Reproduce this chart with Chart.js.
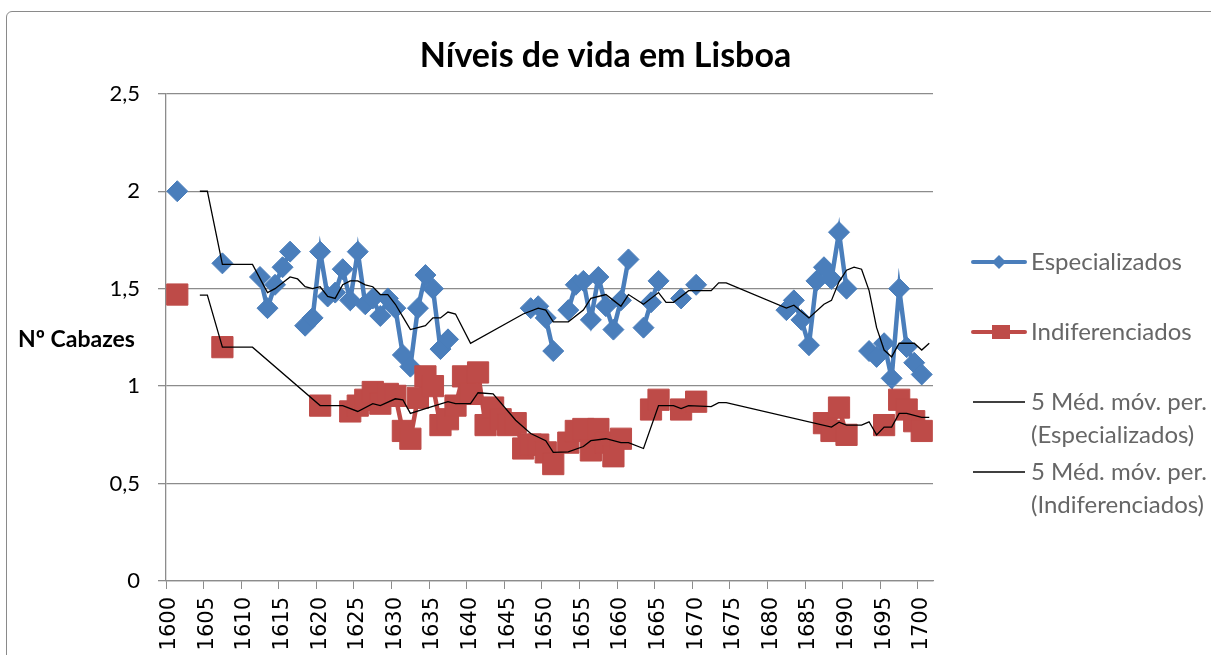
<!DOCTYPE html>
<html>
<head>
<meta charset="utf-8">
<script src="https://cdn.jsdelivr.net/npm/chart.js@4.4.1/dist/chart.umd.min.js"></script>
<style>
  html, body { margin: 0; padding: 0; background: #fff; overflow: hidden; }
  #wrap { position: relative; width: 1211px; height: 655px; }
  #frame { position: absolute; left: 6px; top: 11px; width: 1300px; height: 700px;
           border: 1.5px solid #8a8a8a; border-radius: 6px; pointer-events: none; }
</style>
</head>
<body>
<div id="wrap">
  <canvas id="chart" width="1211" height="655"></canvas>
  <div id="frame"></div>
</div>
<script>
const chartTitle = 'Níveis de vida em Lisboa';
const yTitle = 'Nº Cabazes';

// categorias do eixo x: um ano por categoria
const years = [];
for (let y = 1600; y <= 1701; y++) years.push(y);

const espYears = [1601, 1607, 1612, 1613, 1614, 1615, 1616, 1618, 1619, 1620, 1621, 1622, 1623, 1624, 1625,
  1626, 1627, 1628, 1629, 1630, 1631, 1632, 1633, 1634, 1635, 1636, 1637, 1648, 1649, 1650, 1651,
  1653, 1654, 1655, 1656, 1657, 1658, 1659, 1660, 1661, 1663, 1664, 1665, 1668, 1670,
  1682, 1683, 1684, 1685, 1686, 1687, 1688, 1689, 1690, 1693, 1694, 1695, 1696, 1697, 1698, 1699, 1700];
const espValues = [2.00, 1.63, 1.56, 1.40, 1.52, 1.61, 1.69, 1.31, 1.35, 1.69, 1.46, 1.48, 1.60, 1.44, 1.69,
  1.42, 1.45, 1.36, 1.45, 1.40, 1.16, 1.10, 1.40, 1.57, 1.50, 1.19, 1.24, 1.40, 1.41, 1.35, 1.18,
  1.39, 1.52, 1.54, 1.34, 1.56, 1.41, 1.29, 1.44, 1.65, 1.30, 1.43, 1.54, 1.45, 1.52,
  1.39, 1.44, 1.34, 1.21, 1.54, 1.61, 1.55, 1.79, 1.50, 1.18, 1.15, 1.22, 1.04, 1.50, 1.20, 1.12, 1.06];

const indYears = [1601, 1607, 1620, 1624, 1625, 1626, 1627, 1628, 1629, 1630, 1631, 1632, 1633, 1634, 1635,
  1636, 1637, 1638, 1639, 1640, 1641, 1642, 1643, 1644, 1645, 1646, 1647, 1648, 1649, 1650, 1651,
  1653, 1654, 1655, 1656, 1657, 1658, 1659, 1660, 1664, 1665, 1668, 1670,
  1687, 1688, 1689, 1690, 1695, 1697, 1698, 1699, 1700];
const indValues = [1.47, 1.20, 0.90, 0.87, 0.90, 0.93, 0.97, 0.91, 0.96, 0.95, 0.77, 0.73, 0.94, 1.05, 1.00,
  0.80, 0.83, 0.90, 1.05, 0.96, 1.07, 0.80, 0.89, 0.83, 0.80, 0.81, 0.68, 0.70, 0.70, 0.66, 0.60,
  0.71, 0.77, 0.78, 0.67, 0.78, 0.71, 0.64, 0.73, 0.88, 0.93, 0.88, 0.92,
  0.81, 0.77, 0.89, 0.75, 0.80, 0.93, 0.88, 0.82, 0.77];

// médias móveis
const mmEspYears = [1604, 1605, 1607, 1611, 1613, 1614, 1616, 1617, 1618, 1619, 1620, 1621, 1622, 1623, 1624,
  1625, 1626, 1627, 1628, 1629, 1630, 1631, 1632, 1633, 1634, 1635, 1636, 1637, 1638, 1640, 1647,
  1649, 1650, 1651, 1653, 1655, 1656, 1658, 1659, 1660, 1661, 1663, 1665, 1666, 1667, 1669, 1672,
  1673, 1674, 1682, 1683, 1685, 1687, 1688, 1689, 1690, 1691, 1692, 1693, 1694, 1695, 1696, 1697,
  1699, 1700, 1701];
const mmEspValues = [2.00, 2.00, 1.625, 1.625, 1.48, 1.50, 1.56, 1.55, 1.51, 1.50, 1.51, 1.46, 1.45, 1.52, 1.54,
  1.54, 1.52, 1.51, 1.47, 1.47, 1.42, 1.355, 1.29, 1.30, 1.31, 1.35, 1.35, 1.38, 1.37, 1.22, 1.37,
  1.40, 1.39, 1.33, 1.33, 1.39, 1.45, 1.47, 1.44, 1.41, 1.47, 1.42, 1.48, 1.43, 1.43, 1.49, 1.49,
  1.53, 1.53, 1.40, 1.415, 1.35, 1.42, 1.44, 1.535, 1.595, 1.61, 1.60, 1.49, 1.30, 1.185, 1.15, 1.22,
  1.22, 1.185, 1.22];

const mmIndYears = [1604, 1605, 1607, 1611, 1620, 1623, 1625, 1627, 1628, 1630, 1631, 1632, 1634, 1637, 1638,
  1640, 1641, 1643, 1646, 1648, 1650, 1651, 1653, 1655, 1656, 1658, 1660, 1661, 1663, 1665, 1667,
  1668, 1669, 1672, 1673, 1674, 1688, 1689, 1690, 1692, 1693, 1694, 1695, 1696, 1697, 1698, 1700, 1701];
const mmIndValues = [1.467, 1.467, 1.20, 1.20, 0.90, 0.90, 0.87, 0.91, 0.90, 0.935, 0.93, 0.86, 0.885, 0.92, 0.91,
  0.91, 0.966, 0.96, 0.825, 0.757, 0.72, 0.66, 0.663, 0.69, 0.72, 0.73, 0.71, 0.71, 0.68, 0.90, 0.90,
  0.885, 0.90, 0.895, 0.915, 0.915, 0.79, 0.815, 0.80, 0.80, 0.817, 0.75, 0.79, 0.79, 0.86, 0.86, 0.84, 0.84];

const yTicks = [0, 0.5, 1, 1.5, 2, 2.5];

const BLUE = '#4a7ebb';
const RED = '#be4b48';

function onYears(ys, vs) {
  const m = new Map(ys.map((y, i) => [y, vs[i]]));
  return years.map(y => (m.has(y) ? m.get(y) : null));
}

// pequenos símbolos da legenda: linha + marcador
function legendSymbol(color, width, marker) {
  const c = document.createElement('canvas');
  c.width = 100; c.height = 24;
  const g = c.getContext('2d');
  g.strokeStyle = color;
  g.lineWidth = width;
  g.lineCap = marker ? 'round' : 'butt';
  g.beginPath(); g.moveTo(45, 12); g.lineTo(97, 12); g.stroke();
  g.fillStyle = color;
  if (marker === 'diamond') {
    g.beginPath(); g.moveTo(71, 5); g.lineTo(78, 12); g.lineTo(71, 19); g.lineTo(64, 12); g.closePath(); g.fill();
  } else if (marker === 'square') {
    g.fillRect(64, 5, 18, 14);
  }
  return c;
}

const symbols = [
  legendSymbol(BLUE, 4, 'diamond'),
  legendSymbol(RED, 4, 'square'),
  legendSymbol('#000', 1.3, null),
  legendSymbol('#000', 1.3, null)
];
const legendTexts = [
  ['Especializados', ''],
  ['Indiferenciados', ''],
  ['5 Méd. móv. per.', '(Especializados)'],
  ['5 Méd. móv. per.', '(Indiferenciados)']
];

const yTitlePlugin = {
  id: 'yTitle',
  afterDraw(chart) {
    const { ctx, chartArea } = chart;
    ctx.save();
    ctx.font = 'bold 23px Lato';
    ctx.fillStyle = '#000';
    ctx.textBaseline = 'middle';
    ctx.textAlign = 'left';
    ctx.fillText(yTitle, 18, (chartArea.top + chartArea.bottom) / 2 + 2);
    ctx.restore();
  }
};

new Chart(document.getElementById('chart'), {
  type: 'line',
  data: {
    labels: years,
    datasets: [
      { label: 'Especializados', data: onYears(espYears, espValues), borderColor: BLUE, backgroundColor: BLUE,
        borderWidth: 4.5, pointStyle: 'rectRot', pointRadius: 10.5, pointBorderWidth: 1, spanGaps: false, order: 4 },
      { label: 'Indiferenciados', data: onYears(indYears, indValues), borderColor: RED, backgroundColor: RED,
        borderWidth: 4.5, pointStyle: 'rect', pointRadius: 15, pointBorderWidth: 1, spanGaps: false, order: 3 },
      { label: '5 Méd. móv. per. (Especializados)', data: onYears(mmEspYears, mmEspValues), borderColor: '#000',
        borderWidth: 1.3, pointRadius: 0, spanGaps: true, order: 1 },
      { label: '5 Méd. móv. per. (Indiferenciados)', data: onYears(mmIndYears, mmIndValues), borderColor: '#000',
        borderWidth: 1.3, pointRadius: 0, spanGaps: true, order: 2 }
    ]
  },
  options: {
    responsive: false,
    animation: false,
    devicePixelRatio: 1,
    layout: { padding: 0 },
    plugins: {
      tooltip: { enabled: false },
      title: {
        display: true, text: chartTitle, color: '#000',
        font: { family: 'Lato', size: 34, weight: 'bold', lineHeight: 1.2 },
        padding: { top: 36, bottom: 17 }
      },
      legend: {
        position: 'right',
        align: 'start',
        maxWidth: 278,
        title: { display: true, text: '', padding: { top: 231.6, bottom: 0 } },
        labels: {
          usePointStyle: true,
          pointStyleWidth: 82,
          padding: 4,
          color: '#000',
          font: { family: 'Lato', size: 24, lineHeight: 33 / 24 },
          generateLabels: (chart) => chart.data.datasets.map((ds, i) => ({
            text: legendTexts[i],
            pointStyle: symbols[i],
            fillStyle: ds.borderColor,
            strokeStyle: ds.borderColor,
            lineWidth: 0,
            hidden: false,
            datasetIndex: i
          }))
        }
      }
    },
    scales: {
      x: {
        type: 'category',
        offset: true,
        afterFit: (s) => { s.height = 74; },
        grid: {
          offset: true, drawOnChartArea: false, drawTicks: true, tickLength: 8,
          color: (c) => (c.index % 5 === 0 ? '#8c8c8c' : 'rgba(0,0,0,0)')
        },
        border: { display: true, color: '#8c8c8c', width: 1.3 },
        ticks: {
          autoSkip: false, minRotation: 90, maxRotation: 90, padding: 8, color: '#000',
          font: { family: 'DejaVu Sans', size: 21 },
          callback: function (v, i) { return (i % 5 === 0 && i <= 100) ? String(years[i]) : ''; }
        }
      },
      y: {
        min: 0, max: 2.5,
        afterFit: (s) => { s.width = 166; },
        afterBuildTicks: (s) => { s.ticks = yTicks.map(v => ({ value: v })); },
        grid: { color: '#8c8c8c', lineWidth: 1.3, tickLength: 8, drawTicks: true },
        border: { display: true, color: '#8c8c8c', width: 1.3 },
        ticks: {
          padding: 18, color: '#000',
          font: { family: 'Lato', size: 22 },
          callback: (v) => String(v).replace('.', ',')
        }
      }
    }
  },
  plugins: [yTitlePlugin]
});
</script>
</body>
</html>
